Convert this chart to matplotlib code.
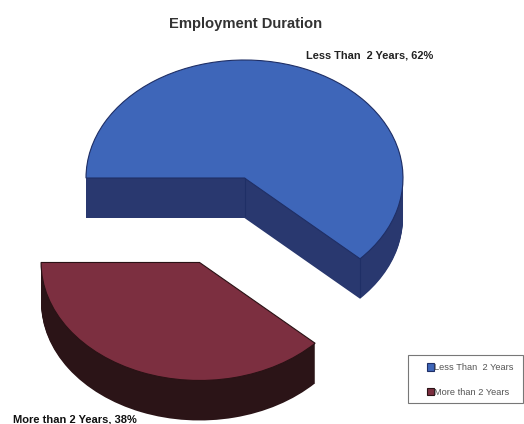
import matplotlib
matplotlib.use('Agg')
import matplotlib.pyplot as plt
from matplotlib.patches import Rectangle
import numpy as np

plt.rcParams['font.family'] = ['Liberation Sans', 'DejaVu Sans']

categories = ['Less Than  2 Years', 'More than 2 Years']
shares = [62, 38]
slice_labels = ['Less Than  2 Years, 62%', 'More than 2 Years, 38%']
chart_title = 'Employment Duration'

top_colors = ['#3E66B9', '#7C2F40']
side_colors = ['#29386F', '#2B1417']
edge_colors = ['#1F2F66', '#2A1215']

W, H = 524, 424
# centre of the blue slice and the ellipse radii, in pixels
cx, cy, rx, ry = 244.5, 178, 158.5, 118
depth = 40

fig = plt.figure(figsize=(W / 100, H / 100), dpi=100)
ax = fig.add_axes([0, 0, 1, 1])

# side walls: same pie repeated downwards
for d in range(depth, 0, -1):
    ax.pie(shares, colors=side_colors, startangle=180, counterclock=False,
           explode=[0, 0.77], center=(0, -d / ry),
           wedgeprops={'linewidth': 0})

wedges, _ = ax.pie(shares, colors=top_colors, startangle=180, counterclock=False,
                   explode=[0, 0.77], center=(0, 0),
                   wedgeprops={'linewidth': 0.8})
for w, c in zip(wedges, edge_colors):
    w.set_edgecolor(c)

# corner lines on the blue walls
blue = wedges[0]
corner_x = blue.center[0] + np.cos(np.radians(blue.theta1))
corner_y = blue.center[1] + np.sin(np.radians(blue.theta1))
for x0, y0 in [(blue.center[0], blue.center[1]), (corner_x, corner_y)]:
    ax.plot([x0, x0], [y0, y0 - (depth - 2) / ry], color=edge_colors[0], lw=0.8)

ax.set_aspect('auto')
ax.set_xlim(-cx / rx, (W - cx) / rx)
ax.set_ylim((cy - H) / ry, cy / ry)
ax.axis('off')

fig.text(246 / W, 1 - 24 / H, chart_title, fontsize=10.6, fontweight='bold',
         color='#333333', ha='center', va='center')
fig.text(306 / W, 1 - 55 / H, slice_labels[0], fontsize=7.9, fontweight='bold',
         color='#222222', ha='left', va='center')
fig.text(13 / W, 1 - 420 / H, slice_labels[1], fontsize=8, fontweight='bold',
         color='#111111', ha='left', va='center')

# legend frame is drawn apart because the entries sit off centre in it
fig.add_artist(Rectangle((408 / W, 1 - 403 / H), 115 / W, 48 / H, transform=fig.transFigure,
                         facecolor='white', edgecolor='#777777', linewidth=0.8, zorder=-1))
leg = ax.legend(wedges, categories, loc='center left',
                bbox_to_anchor=(427 / W, 1 - 380 / H),
                bbox_transform=fig.transFigure,
                prop={'size': 6.7}, labelcolor='#555555', frameon=False,
                handlelength=0.75, handleheight=0.9,
                handletextpad=0.05, labelspacing=1.65, borderpad=0, borderaxespad=0)

fig.savefig('out.png', dpi=100)
